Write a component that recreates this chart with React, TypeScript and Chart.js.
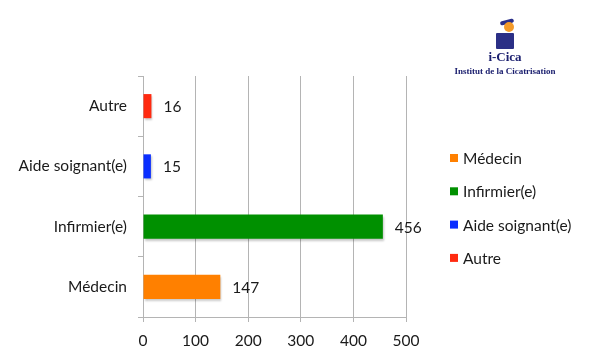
import React, { useEffect, useRef } from "react";
import { Chart, registerables } from "chart.js";

Chart.register(...registerables);

const categories = ["Médecin", "Infirmier(e)", "Aide soignant(e)", "Autre"];
const values = [147, 456, 15, 16];
const colors = ["#ff8000", "#009000", "#0a2eff", "#ff2a10"];
const xTicks = [0, 100, 200, 300, 400, 500];

const FONT = "Lato, 'Liberation Sans', sans-serif";
const FS = 15.5;

const valueLabels = {
  id: "valueLabels",
  afterDatasetsDraw(chart: any) {
    const ctx = chart.ctx;
    const meta = chart.getDatasetMeta(0);
    ctx.save();
    ctx.font = `${FS}px ${FONT}`;
    ctx.fillStyle = "#1a1a1a";
    ctx.textAlign = "left";
    ctx.textBaseline = "middle";
    meta.data.forEach((bar: any, i: number) => {
      ctx.fillText(String(values[i]), bar.x + 12, bar.y + 1);
    });
    ctx.restore();
  },
};

const shadow = {
  id: "barShadow",
  beforeDatasetsDraw(chart: any) {
    const ctx = chart.ctx;
    ctx.save();
    ctx.shadowColor = "rgba(0,0,0,0.22)";
    ctx.shadowBlur = 2;
    ctx.shadowOffsetX = 1;
    ctx.shadowOffsetY = 2;
  },
  afterDatasetsDraw(chart: any) {
    chart.ctx.restore();
  },
};

const sideLegend = {
  id: "sideLegend",
  afterDraw(chart: any) {
    const ctx = chart.ctx;
    ctx.save();
    ctx.font = `${FS}px ${FONT}`;
    ctx.textAlign = "left";
    ctx.textBaseline = "middle";
    const x0 = chart.chartArea.right + 44;
    categories.forEach((c, i) => {
      const y = 158 + i * 33.3;
      ctx.fillStyle = colors[i];
      ctx.fillRect(x0, y - 4, 8, 8);
      ctx.fillStyle = "#1a1a1a";
      ctx.fillText(c, x0 + 13, y + 1);
    });
    ctx.restore();
  },
};

export default function App() {
  const ref = useRef<HTMLCanvasElement>(null);
  useEffect(() => {
    const chart = new Chart(ref.current!, {
      type: "bar",
      data: {
        labels: categories,
        datasets: [
          {
            data: values,
            backgroundColor: colors,
            barPercentage: 0.4,
            categoryPercentage: 1,
          },
        ],
      },
      options: {
        indexAxis: "y",
        animation: false,
        responsive: false,
        layout: { padding: { top: 76, right: 194, left: 0, bottom: 0 } },
        plugins: { legend: { display: false }, tooltip: { enabled: false } },
        scales: {
          x: {
            min: 0,
            max: 500,
            afterFit: (s: any) => {
              s.height = 44;
            },
            afterBuildTicks: (s: any) => {
              s.ticks = xTicks.map((v) => ({ value: v }));
            },
            grid: { color: "#b4b4b4", lineWidth: 1, tickLength: 5 },
            border: { color: "#b4b4b4" },
            ticks: {
              color: "#1a1a1a",
              font: { family: FONT, size: FS },
              padding: 10,
            },
          },
          y: {
            reverse: true,
            afterFit: (s: any) => {
              s.width = 143;
            },
            grid: {
              drawOnChartArea: false,
              drawTicks: true,
              tickLength: 5,
              color: "#b4b4b4",
              offset: true,
            },
            border: { color: "#b4b4b4" },
            ticks: {
              color: "#1a1a1a",
              font: { family: FONT, size: FS },
              padding: 11,
            },
          },
        },
      },
      plugins: [shadow, valueLabels, sideLegend],
    });
    return () => chart.destroy();
  }, []);

  return (
    <div style={{ position: "fixed", left: 0, top: 0, width: 600, height: 361, background: "#fff" }}>
      <canvas ref={ref} width={600} height={361} style={{ position: "absolute", left: 0, top: 0 }} />
      <div style={{ position: "absolute", left: 440, top: 0, width: 160, height: 90 }}>
        <div style={{ position: "absolute", left: 60, top: 20, width: 14, height: 4, borderRadius: 2, background: "#2a2f8a", transform: "rotate(-15deg)" }} />
        <div style={{ position: "absolute", left: 64, top: 22, width: 10, height: 10, borderRadius: 5, background: "#f39a2a" }} />
        <div style={{ position: "absolute", left: 56, top: 33, width: 18, height: 16, background: "#2b2f86", borderRadius: 1 }} />
        <div
          style={{
            position: "absolute",
            left: 0,
            width: 130,
            top: 50,
            textAlign: "center",
            fontFamily: "'Liberation Serif', 'DejaVu Serif', serif",
            fontWeight: "bold",
            color: "#1d2170",
            fontSize: 13,
            lineHeight: "14px",
          }}
        >
          i-Cica
        </div>
        <div
          style={{
            position: "absolute",
            left: 0,
            width: 130,
            top: 66,
            textAlign: "center",
            fontFamily: "'Liberation Serif', 'DejaVu Serif', serif",
            fontWeight: "bold",
            color: "#1d2170",
            fontSize: 9,
            lineHeight: "11px",
            whiteSpace: "nowrap",
          }}
        >
          Institut de la Cicatrisation
        </div>
      </div>
    </div>
  );
}
